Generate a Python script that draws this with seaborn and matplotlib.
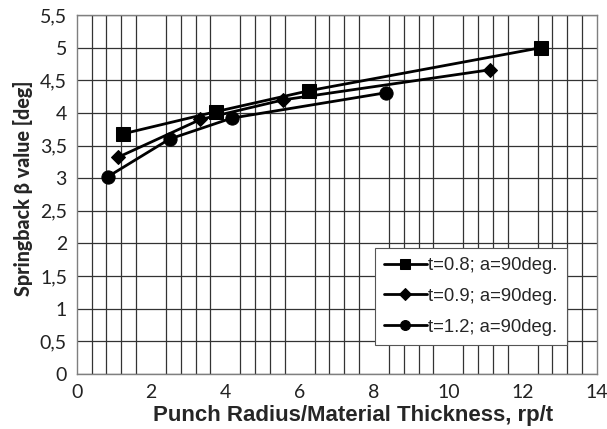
import matplotlib
matplotlib.use("Agg")
import matplotlib.pyplot as plt
from matplotlib.ticker import MultipleLocator, FixedLocator, FixedFormatter
import seaborn as sns
import pandas as pd

# ---- data ----
x_t08 = [1.25, 3.75, 6.25, 12.5]
y_t08 = [3.68, 4.02, 4.34, 5.00]
x_t09 = [1.11, 3.33, 5.56, 11.11]
y_t09 = [3.32, 3.90, 4.20, 4.66]
x_t12 = [0.83, 2.50, 4.17, 8.33]
y_t12 = [3.02, 3.60, 3.92, 4.31]
series_labels = ["t=0.8; a=90deg.", "t=0.9; a=90deg.", "t=1.2; a=90deg."]
x_ticks = [0, 2, 4, 6, 8, 10, 12, 14]
x_ticklabels = ["0", "2", "4", "6", "8", "10", "12", "14"]
y_ticks = [0, 0.5, 1, 1.5, 2, 2.5, 3, 3.5, 4, 4.5, 5, 5.5]
y_ticklabels = ["0", "0,5", "1", "1,5", "2", "2,5", "3", "3,5", "4", "4,5", "5", "5,5"]
x_label = "Punch Radius/Material Thickness, rp/t"
y_label = "Springback \u03b2 value [deg]"

sns.set_style("white")
plt.rcParams["font.family"] = ["Liberation Sans", "DejaVu Sans"]

fig = plt.figure(figsize=(6.07, 4.29), dpi=100)
ax = fig.add_axes([76.7 / 607, 1 - 374 / 429, (597 - 76.7) / 607, (374 - 15) / 429])

markers = ["s", "D", "o"]
msizes = [9.5, 7.5, 9.5]
for xs, ys, lab, m, ms in zip([x_t08, x_t09, x_t12], [y_t08, y_t09, y_t12],
                              series_labels, markers, msizes):
    df = pd.DataFrame({"x": xs, "y": ys})
    sns.lineplot(data=df, x="x", y="y", ax=ax, color="black", marker=m,
                 markersize=ms, markeredgecolor="black", linewidth=2.0,
                 label=lab, zorder=3)

ax.set_xlim(0, 14)
ax.set_ylim(0, 5.5)
ax.xaxis.set_major_locator(FixedLocator(x_ticks))
ax.xaxis.set_major_formatter(FixedFormatter(x_ticklabels))
ax.yaxis.set_major_locator(FixedLocator(y_ticks))
ax.yaxis.set_major_formatter(FixedFormatter(y_ticklabels))
ax.xaxis.set_minor_locator(MultipleLocator(0.4))

ax.grid(True, which="major", axis="y", color="#333333", linewidth=0.9)
ax.grid(True, which="minor", axis="x", color="#333333", linewidth=0.9)
ax.grid(False, which="major", axis="x")
ax.tick_params(axis="x", which="both", length=0, pad=7)
ax.tick_params(axis="y", which="both", length=0, pad=7)
for lbl in ax.get_xticklabels() + ax.get_yticklabels():
    lbl.set_family(["Lato", "DejaVu Sans"])
    lbl.set_fontsize(14)
    lbl.set_color("#222222")
for sp in ax.spines.values():
    sp.set_color("#7f7f7f")
    sp.set_linewidth(1.0)

ax.set_xlabel(x_label, fontsize=16, fontweight="bold")
ax.xaxis.set_label_coords(0.531, -0.085)
ax.set_ylabel(y_label, fontsize=14.2, fontweight="black",
              family=["Lato", "DejaVu Sans"])
ax.yaxis.set_label_coords(-0.084, 0.517)

leg = ax.legend(loc="lower left", bbox_to_anchor=(0.573, 0.081), borderaxespad=0,
                fontsize=13.3, frameon=True, fancybox=False, edgecolor="#555555",
                framealpha=1, handlelength=2.3, handletextpad=0.1,
                labelspacing=0.75, borderpad=0.5, markerscale=0.75)
leg.get_frame().set_linewidth(0.8)

fig.savefig("out.png", dpi=100, facecolor="white")
